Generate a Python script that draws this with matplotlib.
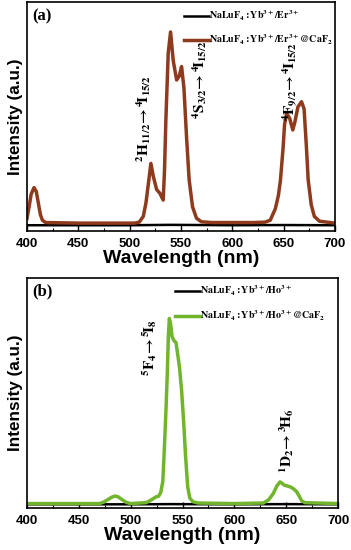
import matplotlib
matplotlib.use('Agg')
import matplotlib.pyplot as plt
from matplotlib.ticker import MultipleLocator

plt.rcParams['mathtext.fontset'] = 'stix'
plt.rcParams['font.family'] = 'Liberation Sans'

# panel (a): NaLuF4:Yb/Er and core-shell @CaF2
wl_er = [400, 402, 404, 406.8, 409, 411, 413, 415, 418, 450, 480, 505, 509.3, 513.3, 515.9, 518.5,
         520.7, 523, 526.3, 529.5, 532.7, 534, 535.3, 537.6, 539.9, 542.5, 545.8, 548.3, 550.6,
         552.9, 555.5, 558, 561.3, 565.2, 570, 580, 620, 632, 637, 642, 645, 647, 649.6, 651, 653,
         656, 659, 661, 664, 667.5, 670, 672.3, 674, 677, 680, 685, 700]
int_er_cs = [0.03, 0.09, 0.155, 0.19, 0.17, 0.11, 0.05, 0.02, 0.008, 0.005, 0.005, 0.005, 0.01, 0.04, 0.11, 0.22,
             0.316, 0.25, 0.18, 0.16, 0.125, 0.28, 0.54, 0.89, 1.0, 0.85, 0.75, 0.77, 0.82,
             0.71, 0.45, 0.23, 0.09, 0.03, 0.012, 0.008, 0.008, 0.01, 0.02, 0.08, 0.15, 0.23, 0.40, 0.52, 0.576,
             0.55, 0.49, 0.53, 0.61, 0.637, 0.60, 0.40, 0.23, 0.10, 0.04, 0.015, 0.005]
wl_er_core = [400, 500, 540, 600, 650, 700]
int_er_core = [-0.006, -0.006, -0.004, -0.006, -0.005, -0.006]

# panel (b): NaLuF4:Yb/Ho and core-shell @CaF2
wl_ho = [400, 470, 474, 479, 482, 485, 488, 492, 496, 500, 515, 520, 524, 527, 529, 531, 532.5,
         534, 535.3, 536.3, 537.3, 538.5, 540, 541.8, 543.7, 545, 547, 549, 551, 553, 555, 557,
         560, 565, 600, 628, 633, 637.5, 641, 644, 646, 648, 651, 654, 657, 660, 662, 665, 668, 700]
int_ho_cs = [0.0, 0.0, 0.008, 0.025, 0.035, 0.041, 0.036, 0.02, 0.006, 0.0, 0.005, 0.02, 0.035, 0.04, 0.06,
             0.12, 0.3, 0.5, 0.7, 0.9, 1.0, 0.97, 0.9, 0.88, 0.87, 0.82, 0.74, 0.62, 0.45, 0.25, 0.09, 0.03,
             0.01, 0.003, 0.0, 0.003, 0.02, 0.054, 0.095, 0.117, 0.11, 0.1, 0.095, 0.09, 0.08, 0.065, 0.045,
             0.015, 0.005, 0.0]
wl_ho_core = [400, 500, 540, 600, 650, 700]
int_ho_core = [-0.004, -0.004, -0.003, -0.004, -0.003, -0.004]

fig = plt.figure(figsize=(3.51, 5.5), dpi=100)
ax1 = fig.add_axes([0.077, 0.58, 0.877, 0.416])
ax2 = fig.add_axes([0.077, 0.076, 0.886, 0.419])


def style(ax, ylo, yhi):
    ax.set_xlim(400, 700)
    ax.set_ylim(ylo, yhi)
    ax.set_yticks([])
    ax.xaxis.set_major_locator(MultipleLocator(50))
    ax.xaxis.set_minor_locator(MultipleLocator(25))
    ax.tick_params(axis='x', which='major', direction='in', length=4, width=1, pad=5)
    ax.tick_params(axis='x', which='minor', direction='in', length=2.5, width=0.8)
    for lab in ax.get_xticklabels():
        lab.set_fontsize(9.5)
        lab.set_fontweight('bold')
    for s in ax.spines.values():
        s.set_linewidth(1.2)
    ax.set_xlabel('Wavelength (nm)', fontsize=14, fontweight='bold', labelpad=0)
    ax.set_ylabel('Intensity (a.u.)', fontsize=12.3, fontweight='bold', labelpad=3)


ann = dict(rotation=90, ha='center', va='center', fontsize=11)
leg = dict(loc='upper left', frameon=False, fontsize=7.2, handlelength=2.5,
           handletextpad=0.05, labelspacing=1.0, borderaxespad=0.2)

# (a)
ax1.plot(wl_er_core, int_er_core, color='black', lw=1.8,
         label=r'$\mathbf{NaLuF_4{:}Yb^{3+}/Er^{3+}}$')
ax1.plot(wl_er, int_er_cs, color='#8e3a1c', lw=2.5,
         label=r'$\mathbf{NaLuF_4{:}Yb^{3+}/Er^{3+}@CaF_2}$')
style(ax1, -0.036, 1.155)
ax1.legend(bbox_to_anchor=(0.49, 1.0), **leg)
ax1.text(0.016, 0.975, '(a)', transform=ax1.transAxes, ha='left', va='top',
         fontsize=12, fontweight='bold', family='Liberation Serif')
ax1.text(514, 0.55, r'$\mathbf{^2H_{11/2}\!\rightarrow ^4\!I_{15/2}}$', **ann)
ax1.text(568, 0.75, r'$\mathbf{^4S_{3/2}\!\rightarrow ^4\!I_{15/2}}$', **ann)
ax1.text(657, 0.74, r'$\mathbf{^4F_{9/2}\!\rightarrow ^4\!I_{15/2}}$', **ann)

# (b)
ax2.plot(wl_ho_core, int_ho_core, color='black', lw=1.8,
         label=r'$\mathbf{NaLuF_4{:}Yb^{3+}/Ho^{3+}}$')
ax2.plot(wl_ho, int_ho_cs, color='#70b52c', lw=2.5,
         label=r'$\mathbf{NaLuF_4{:}Yb^{3+}/Ho^{3+}@CaF_2}$')
style(ax2, -0.025, 1.22)
ax2.legend(bbox_to_anchor=(0.455, 1.0), **leg)
ax2.text(0.016, 0.975, '(b)', transform=ax2.transAxes, ha='left', va='top',
         fontsize=12, fontweight='bold', family='Liberation Serif')
ax2.text(518, 0.845, r'$\mathbf{^5F_4\!\rightarrow ^5\!I_8}$', **ann)
ax2.text(650, 0.34, r'$\mathbf{^1D_2\!\rightarrow ^3\!H_6}$', **ann)

fig.savefig('out.png', dpi=100)
